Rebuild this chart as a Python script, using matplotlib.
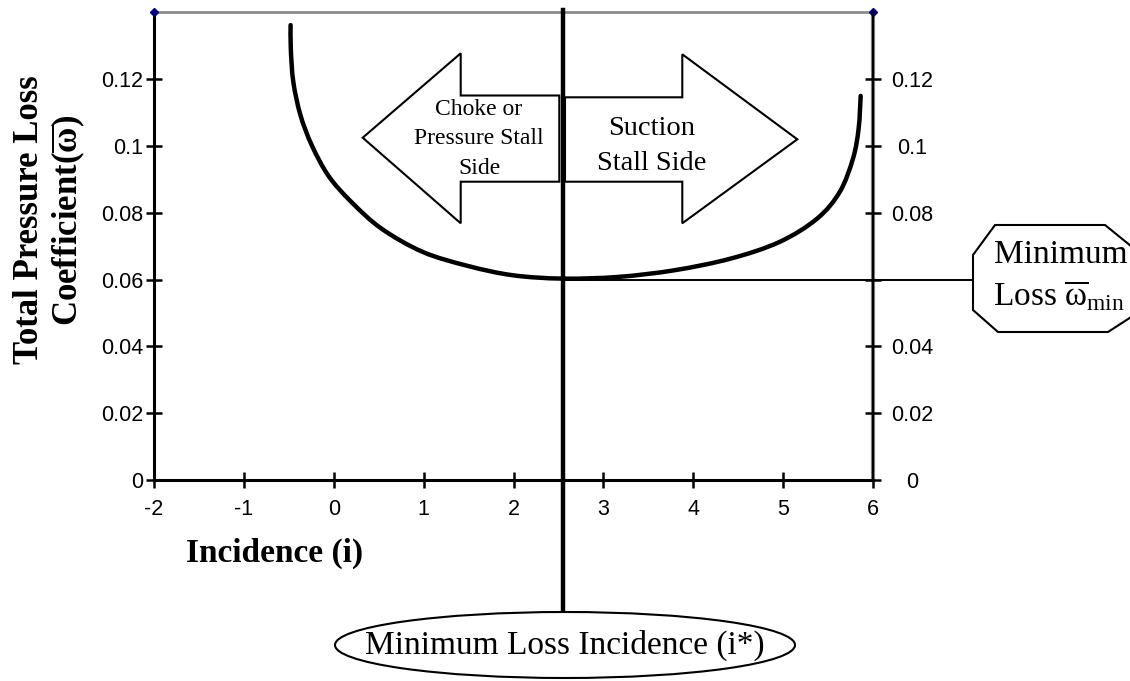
import matplotlib
matplotlib.use("Agg")
import matplotlib.pyplot as plt
import numpy as np
from matplotlib import transforms
from matplotlib.patches import Polygon, Ellipse, PathPatch
from matplotlib.path import Path

# ---------------- data ----------------
incidence = [-0.480, -0.478, -0.450, -0.370, -0.244, -0.057, 0.194, 0.529, 0.989,
             1.491, 1.992, 2.544, 3.163, 3.791, 4.418, 4.962, 5.380, 5.631,
             5.778, 5.840, 5.863]
loss = [0.1362, 0.1292, 0.1192, 0.1092, 0.1002, 0.0910, 0.0833, 0.0753, 0.0683,
        0.0641, 0.0613, 0.0603, 0.0608, 0.0628, 0.0663, 0.0713, 0.0783, 0.0863,
        0.0963, 0.1052, 0.1150]
frame_x = [-2, 6]
frame_y = [0.14, 0.14]
min_incidence = 2.55
min_loss = 0.06
x_ticks = [-2, -1, 0, 1, 2, 3, 4, 5, 6]
y_ticks = [0, 0.02, 0.04, 0.06, 0.08, 0.1, 0.12]
y_tick_labels = ["0", "0.02", "0.04", "0.06", "0.08", "0.1", "0.12"]
y_tick_labels_right = ["0", "0.02", "0.04", "", "0.08", "0.1", "0.12"]

plt.rcParams['mathtext.fontset'] = 'custom'
plt.rcParams['mathtext.rm'] = 'Liberation Serif'
plt.rcParams['mathtext.it'] = 'Liberation Serif:italic'
plt.rcParams['mathtext.bf'] = 'Liberation Serif:bold'

W, H = 1130, 681
fig = plt.figure(figsize=(W / 100, H / 100), dpi=100)
# pixel transform (origin top-left)
PX = transforms.Affine2D().scale(1 / W, -1 / H).translate(0, 1) + fig.transFigure

ax = fig.add_axes([154 / W, 1 - 480 / H, 719 / W, 467.6 / H])
ax.set_xlim(-2, 6)
ax.set_ylim(0, 0.14)

for s in ['top', 'right']:
    ax.spines[s].set_visible(False)
ax.spines['left'].set_linewidth(2.2)
ax.spines['bottom'].set_linewidth(2.2)

ax.set_xticks(x_ticks)
ax.set_xticklabels([str(v) for v in x_ticks])
ax.set_yticks(y_ticks)
ax.set_yticklabels(y_tick_labels)
ax.tick_params(axis='both', direction='inout', length=12, width=1.8,
               labelsize=15.5, labelfontfamily='Liberation Sans')
ax.tick_params(axis='y', pad=2)
ax.tick_params(axis='x', pad=8)

# grey frame series along top and right
ax.plot(frame_x, frame_y, color='#8c8c8c', lw=2, marker='D', ms=4,
        mfc='#000080', mec='#000080', clip_on=False, zorder=3)
ax.plot([frame_x[1], frame_x[1]], [0, frame_y[1]], color='#8c8c8c', lw=3,
        clip_on=False, zorder=2)

# right axis
ax2 = ax.twinx()
ax2.set_ylim(0, 0.14)
for s in ['top', 'left', 'bottom']:
    ax2.spines[s].set_visible(False)
ax2.spines['right'].set_linewidth(1.6)
ax2.spines['right'].set_color('black')
ax2.set_yticks(y_ticks)
ax2.set_yticklabels(y_tick_labels_right)
ax2.tick_params(axis='y', direction='inout', length=12, width=1.8,
                labelsize=15.5, labelfontfamily='Liberation Sans', pad=22)
for lab in ax2.get_yticklabels():
    lab.set_horizontalalignment('center')

# smoothed loss curve (cubic Bezier segments through the read points)
scale_y = 8.0 * (467.6 / 719) / 0.14   # makes x/y units roughly isotropic
pts = np.column_stack([np.asarray(incidence), np.asarray(loss) * scale_y])
verts = [tuple(pts[0])]
codes = [Path.MOVETO]
n = len(pts)
for i in range(n - 1):
    p0 = pts[i - 1] if i > 0 else pts[i]
    p1 = pts[i]
    p2 = pts[i + 1]
    p3 = pts[i + 2] if i + 2 < n else pts[i + 1]
    c1 = p1 + (p2 - p0) / 6.0
    c2 = p2 - (p3 - p1) / 6.0
    verts += [tuple(c1), tuple(c2), tuple(p2)]
    codes += [Path.CURVE4] * 3
verts = np.array(verts)
verts[:, 1] = verts[:, 1] / scale_y
ax.add_patch(PathPatch(Path(verts, codes), fc='none', ec='black', lw=3.2,
                       capstyle='round', zorder=4))

# vertical line at minimum-loss incidence, extending below axes
vtrans = transforms.blended_transform_factory(ax.transData, PX)
ax.plot([min_incidence, min_incidence], [10, 612], color='black', lw=3.2,
        transform=vtrans, clip_on=False, zorder=5)

# horizontal line at minimum loss toward the octagon
x_end = ax.transData.inverted().transform(PX.transform((974, 0)))[0]
ax.plot([min_incidence, x_end], [min_loss, min_loss], color='black', lw=1.4,
        clip_on=False, zorder=5)

# arrows
left_arrow = [(362.7, 137.7), (460.7, 53.3), (460.7, 95.5), (559.3, 95.5),
              (559.3, 181.7), (460.7, 181.7), (460.7, 223.3)]
right_arrow = [(565, 97.3), (682.3, 97.3), (682.3, 54.3), (797.3, 139.3),
               (682.3, 223.3), (682.3, 181.7), (565, 181.7)]
for pts_ in (left_arrow, right_arrow):
    fig.patches.append(Polygon(pts_, closed=True, transform=PX, fc='white',
                               ec='black', lw=1.5, zorder=6))

serif = 'Liberation Serif'
fig.text(479, 139, "Choke or\nPressure Stall\nSide", transform=PX, ha='center',
         va='center', fontsize=17, family=serif, linespacing=1.52, zorder=7)
fig.text(652, 146, "Suction\nStall Side", transform=PX, ha='center',
         va='center', fontsize=20.5, family=serif, linespacing=1.55, zorder=7)

# octagon callout
octagon = [(995, 225), (1105, 225), (1142, 255), (1142, 310), (1108, 332),
           (998, 332), (973, 310), (973, 255)]
fig.patches.append(Polygon(octagon, closed=True, transform=PX, fc='white',
                           ec='black', lw=1.5, zorder=6))
fig.text(994, 255, "Minimum", transform=PX, ha='left', va='center',
         fontsize=24, family=serif, zorder=7)
fig.text(993, 296, r"Loss $\overline{\mathrm{\omega}}_{\mathrm{min}}$",
         transform=PX, ha='left', va='center', fontsize=24, family=serif, zorder=7)

# ellipse callout
fig.patches.append(Ellipse((565, 645), 460, 66, transform=PX, fc='white',
                           ec='black', lw=1.5, zorder=6))
fig.text(565, 645, "Minimum Loss Incidence (i*)", transform=PX, ha='center',
         va='center', fontsize=24, family=serif, zorder=7)

# axis labels
fig.text(50, 220, "Total Pressure Loss\nCoefficient($\\mathbf{\\overline{\\omega}}$)",
         transform=PX, rotation=90, ha='center', va='center', fontsize=25,
         family=serif, fontweight='bold', multialignment='center', linespacing=1.12)
fig.text(275, 553, "Incidence (i)", transform=PX, ha='center', va='center',
         fontsize=24, family=serif, fontweight='bold')

fig.savefig("out.png", dpi=100)
